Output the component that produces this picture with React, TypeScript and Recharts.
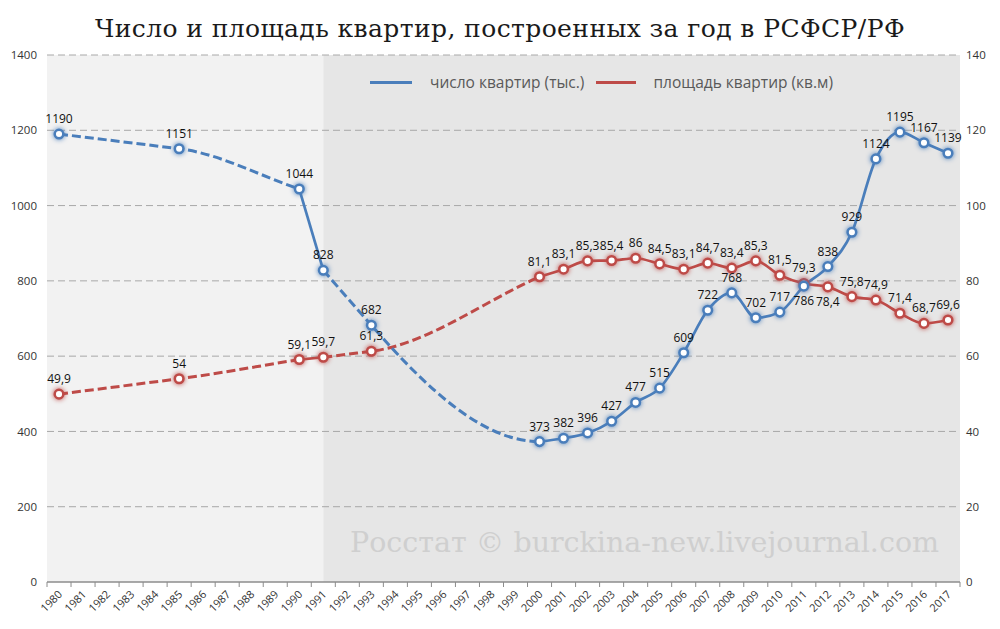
import React from 'react';
import { LineChart, Line, XAxis, YAxis, ReferenceArea, ReferenceLine, LabelList, Legend } from 'recharts';

// ---- data ----
const years = [
  1980, 1981, 1982, 1983, 1984, 1985, 1986, 1987, 1988, 1989, 1990, 1991, 1992, 1993, 1994, 1995, 1996, 1997, 1998,
  1999, 2000, 2001, 2002, 2003, 2004, 2005, 2006, 2007, 2008, 2009, 2010, 2011, 2012, 2013, 2014, 2015, 2016, 2017,
];
const dataYears = [
  1980, 1985, 1990, 1991, 1993, 2000, 2001, 2002, 2003, 2004, 2005, 2006, 2007, 2008, 2009, 2010, 2011, 2012, 2013,
  2014, 2015, 2016, 2017,
];
const flats = [
  1190, 1151, 1044, 828, 682, 373, 382, 396, 427, 477, 515, 609, 722, 768, 702, 717, 786, 838, 929, 1124, 1195, 1167,
  1139,
];
const areas = [
  49.9, 54, 59.1, 59.7, 61.3, 81.1, 83.1, 85.3, 85.4, 86, 84.5, 83.1, 84.7, 83.4, 85.3, 81.5, 79.3, 78.4, 75.8, 74.9,
  71.4, 68.7, 69.6,
];
const leftTicks = [0, 200, 400, 600, 800, 1000, 1200, 1400];
const rightTicks = [0, 20, 40, 60, 80, 100, 120, 140];
// segments: dashed = gaps in yearly data
const segments = [
  { from: 1980, to: 1990, dashed: true, flatEndFlats: false },
  { from: 1990, to: 1991, dashed: false, flatEndFlats: false },
  { from: 1991, to: 2000, dashed: true, flatEndFlats: true },
  { from: 2000, to: 2017, dashed: false, flatEndFlats: false },
];
const rfStartYear = 1991;
const flatsLabelBelow = [2011];
const areasLabelBelow = [2012];

const title = 'Число и площадь квартир, построенных за год в РСФСР/РФ';
const flatsName = 'число квартир (тыс.)';
const areasName = 'площадь квартир (кв.м)';
const watermark = 'Росстат © burckina-new.livejournal.com';

// ---- styles ----
const W = 1000;
const H = 629;
const LEFT_W = 47;
const RIGHT_W = 40;
const TOP = 55;
const XAXIS_H = 47;
const BW = (W - LEFT_W - RIGHT_W) / years.length;
const BLUE = '#4a7ebb';
const RED = '#be4b48';
const FONT = '"Open Sans", "Noto Sans", sans-serif';
const SERIF = '"DejaVu Serif", "Liberation Serif", serif';

const rows = dataYears.map((year, i) => {
  const row: Record<string, number | null> = { year, flats: flats[i], areas: areas[i] };
  segments.forEach((s, k) => {
    const inside = year >= s.from && year <= s.to;
    row['f' + k] = inside ? flats[i] : null;
    row['a' + k] = inside ? areas[i] : null;
  });
  return row;
});

const fmt = (v: number) => String(v).replace('.', ',');

// smooth curve (Excel-like look for interpolated gaps): Hermite spline,
// tangent = incoming chord, optionally flat at the end.
const hermiteCurve = (flatEnd: boolean) => (context: any) => {
  let xs: number[] = [];
  let ys: number[] = [];
  return {
    areaStart() {},
    areaEnd() {},
    lineStart() {
      xs = [];
      ys = [];
    },
    point(x: number, y: number) {
      xs.push(+x);
      ys.push(+y);
    },
    lineEnd() {
      const n = xs.length;
      if (n === 0) return;
      context.moveTo(xs[0], ys[0]);
      if (n === 1) return;
      const chord = (i: number) => (ys[i + 1] - ys[i]) / (xs[i + 1] - xs[i]);
      const m: number[] = [];
      for (let i = 0; i < n; i++) m.push(i === 0 ? chord(0) : chord(i - 1));
      if (flatEnd) m[n - 1] = 0;
      for (let i = 0; i < n - 1; i++) {
        const dx = (xs[i + 1] - xs[i]) / 3;
        context.bezierCurveTo(
          xs[i] + dx,
          ys[i] + m[i] * dx,
          xs[i + 1] - dx,
          ys[i + 1] - m[i + 1] * dx,
          xs[i + 1],
          ys[i + 1],
        );
      }
    },
  };
};

const makeDot = (color: string) => (props: any) => {
  const { cx, cy, index } = props;
  if (cx == null || cy == null || isNaN(cy)) return <g key={index} />;
  return (
    <circle
      key={index}
      cx={cx}
      cy={cy}
      r={4.3}
      fill="#fff"
      stroke={color}
      strokeWidth={2.5}
      style={{ filter: `drop-shadow(0 0 2.5px ${color})` }}
    />
  );
};

const makeLabel = (below: number[]) => (props: any) => {
  const { x, y, value, index } = props;
  if (value == null) return null;
  const isBelow = below.includes(dataYears[index]);
  return (
    <text
      key={index}
      x={x}
      y={isBelow ? y + 19 : y - 11}
      textAnchor="middle"
      fontSize={12}
      fontFamily={FONT}
      fill="#111"
    >
      {fmt(value)}
    </text>
  );
};

const XTick = (props: any) => {
  const { x, y, payload, index } = props;
  const half = BW / 2;
  return (
    <g>
      <line x1={x - half} x2={x - half} y1={y} y2={y + 5} stroke="#8c8c8c" />
      {index === years.length - 1 && <line x1={x + half} x2={x + half} y1={y} y2={y + 5} stroke="#8c8c8c" />}
      <text
        transform={`translate(${x + 4},${y + 13}) rotate(-45)`}
        textAnchor="end"
        fontSize={11}
        fontFamily={FONT}
        fill="#333"
      >
        {payload.value}
      </text>
    </g>
  );
};

const LegendContent = () => (
  <div style={{ display: 'flex', alignItems: 'center', fontFamily: FONT, fontSize: 15.5, color: '#595959', whiteSpace: 'nowrap' }}>
    <span style={{ display: 'inline-block', width: 42, height: 3, background: BLUE, marginRight: 18 }} />
    <span style={{ marginRight: 12 }}>{flatsName}</span>
    <span style={{ display: 'inline-block', width: 40, height: 3, background: RED, marginRight: 17 }} />
    <span>{areasName}</span>
  </div>
);

export default function App() {
  return (
    <div style={{ position: 'absolute', left: 0, top: 0, width: W, height: H, background: '#fff' }}>
      <div
        style={{
          position: 'absolute',
          left: 0,
          top: 14,
          width: W,
          textAlign: 'center',
          fontFamily: SERIF,
          fontSize: 25,
          color: '#1a1a1a',
          letterSpacing: 0.4,
        }}
      >
        {title}
      </div>
      <LineChart width={W} height={H} data={rows} margin={{ top: TOP, right: 0, bottom: 0, left: 0 }}>
        <ReferenceArea
          xAxisId="x"
          yAxisId="left"
          x1={years[0] - 0.5}
          x2={rfStartYear}
          y1={0}
          y2={1400}
          fill="#f2f2f2"
          fillOpacity={1}
          stroke="none"
        />
        <ReferenceArea
          xAxisId="x"
          yAxisId="left"
          x1={rfStartYear}
          x2={years[years.length - 1] + 0.5}
          y1={0}
          y2={1400}
          fill="#e6e6e6"
          fillOpacity={1}
          stroke="none"
        />
        {leftTicks.slice(1).map((t) => (
          <ReferenceLine
            key={'g' + t}
            xAxisId="x"
            yAxisId="left"
            y={t}
            stroke="#a8a8a8"
            strokeDasharray="7 4"
            strokeWidth={1}
          />
        ))}
        <XAxis
          xAxisId="x"
          dataKey="year"
          type="number"
          domain={[years[0] - 0.5, years[years.length - 1] + 0.5]}
          ticks={years}
          interval={0}
          height={XAXIS_H}
          tickSize={0}
          tickMargin={0}
          tickLine={false}
          axisLine={{ stroke: '#8c8c8c', strokeWidth: 1.5 }}
          tick={<XTick />}
          allowDataOverflow
        />
        <YAxis
          yAxisId="left"
          width={LEFT_W}
          domain={[0, 1400]}
          ticks={leftTicks}
          interval={0}
          axisLine={false}
          tickLine={false}
          tickSize={0}
          tickMargin={10}
          tick={{ fontSize: 11.5, fontFamily: FONT, fill: '#333' }}
        />
        <YAxis
          yAxisId="right"
          orientation="right"
          width={RIGHT_W}
          domain={[0, 140]}
          ticks={rightTicks}
          interval={0}
          axisLine={false}
          tickLine={false}
          tickSize={0}
          tickMargin={6}
          tick={{ fontSize: 11.5, fontFamily: FONT, fill: '#333', textAnchor: 'start' }}
        />
        <Legend
          verticalAlign="middle"
          align="center"
          layout="horizontal"
          wrapperStyle={{ top: 71, left: 370, width: 560, height: 22 }}
          content={<LegendContent />}
        />
        {segments.map((s, k) => (
          <Line
            key={'a' + k}
            xAxisId="x"
            yAxisId="right"
            dataKey={'a' + k}
            type={s.dashed ? (hermiteCurve(false) as any) : 'monotone'}
            stroke={RED}
            strokeWidth={s.dashed ? 3 : 2.7}
            strokeDasharray={s.dashed ? '9 4' : undefined}
            dot={false}
            activeDot={false}
            legendType="none"
            isAnimationActive={false}
          />
        ))}
        {segments.map((s, k) => (
          <Line
            key={'f' + k}
            xAxisId="x"
            yAxisId="left"
            dataKey={'f' + k}
            type={s.dashed ? (hermiteCurve(s.flatEndFlats) as any) : 'monotone'}
            stroke={BLUE}
            strokeWidth={s.dashed ? 3 : 2.7}
            strokeDasharray={s.dashed ? '9 4' : undefined}
            dot={false}
            activeDot={false}
            legendType="none"
            isAnimationActive={false}
          />
        ))}
        <Line
          xAxisId="x"
          yAxisId="right"
          dataKey="areas"
          name={areasName}
          stroke="none"
          dot={makeDot(RED)}
          activeDot={false}
          isAnimationActive={false}
        >
          <LabelList dataKey="areas" content={makeLabel(areasLabelBelow)} />
        </Line>
        <Line
          xAxisId="x"
          yAxisId="left"
          dataKey="flats"
          name={flatsName}
          stroke="none"
          dot={makeDot(BLUE)}
          activeDot={false}
          isAnimationActive={false}
        >
          <LabelList dataKey="flats" content={makeLabel(flatsLabelBelow)} />
        </Line>
      </LineChart>
      <div
        style={{
          position: 'absolute',
          left: 350,
          top: 526,
          fontFamily: SERIF,
          fontSize: 28.5,
          color: '#cfcfcf',
          whiteSpace: 'nowrap',
        }}
      >
        {watermark}
      </div>
    </div>
  );
}
